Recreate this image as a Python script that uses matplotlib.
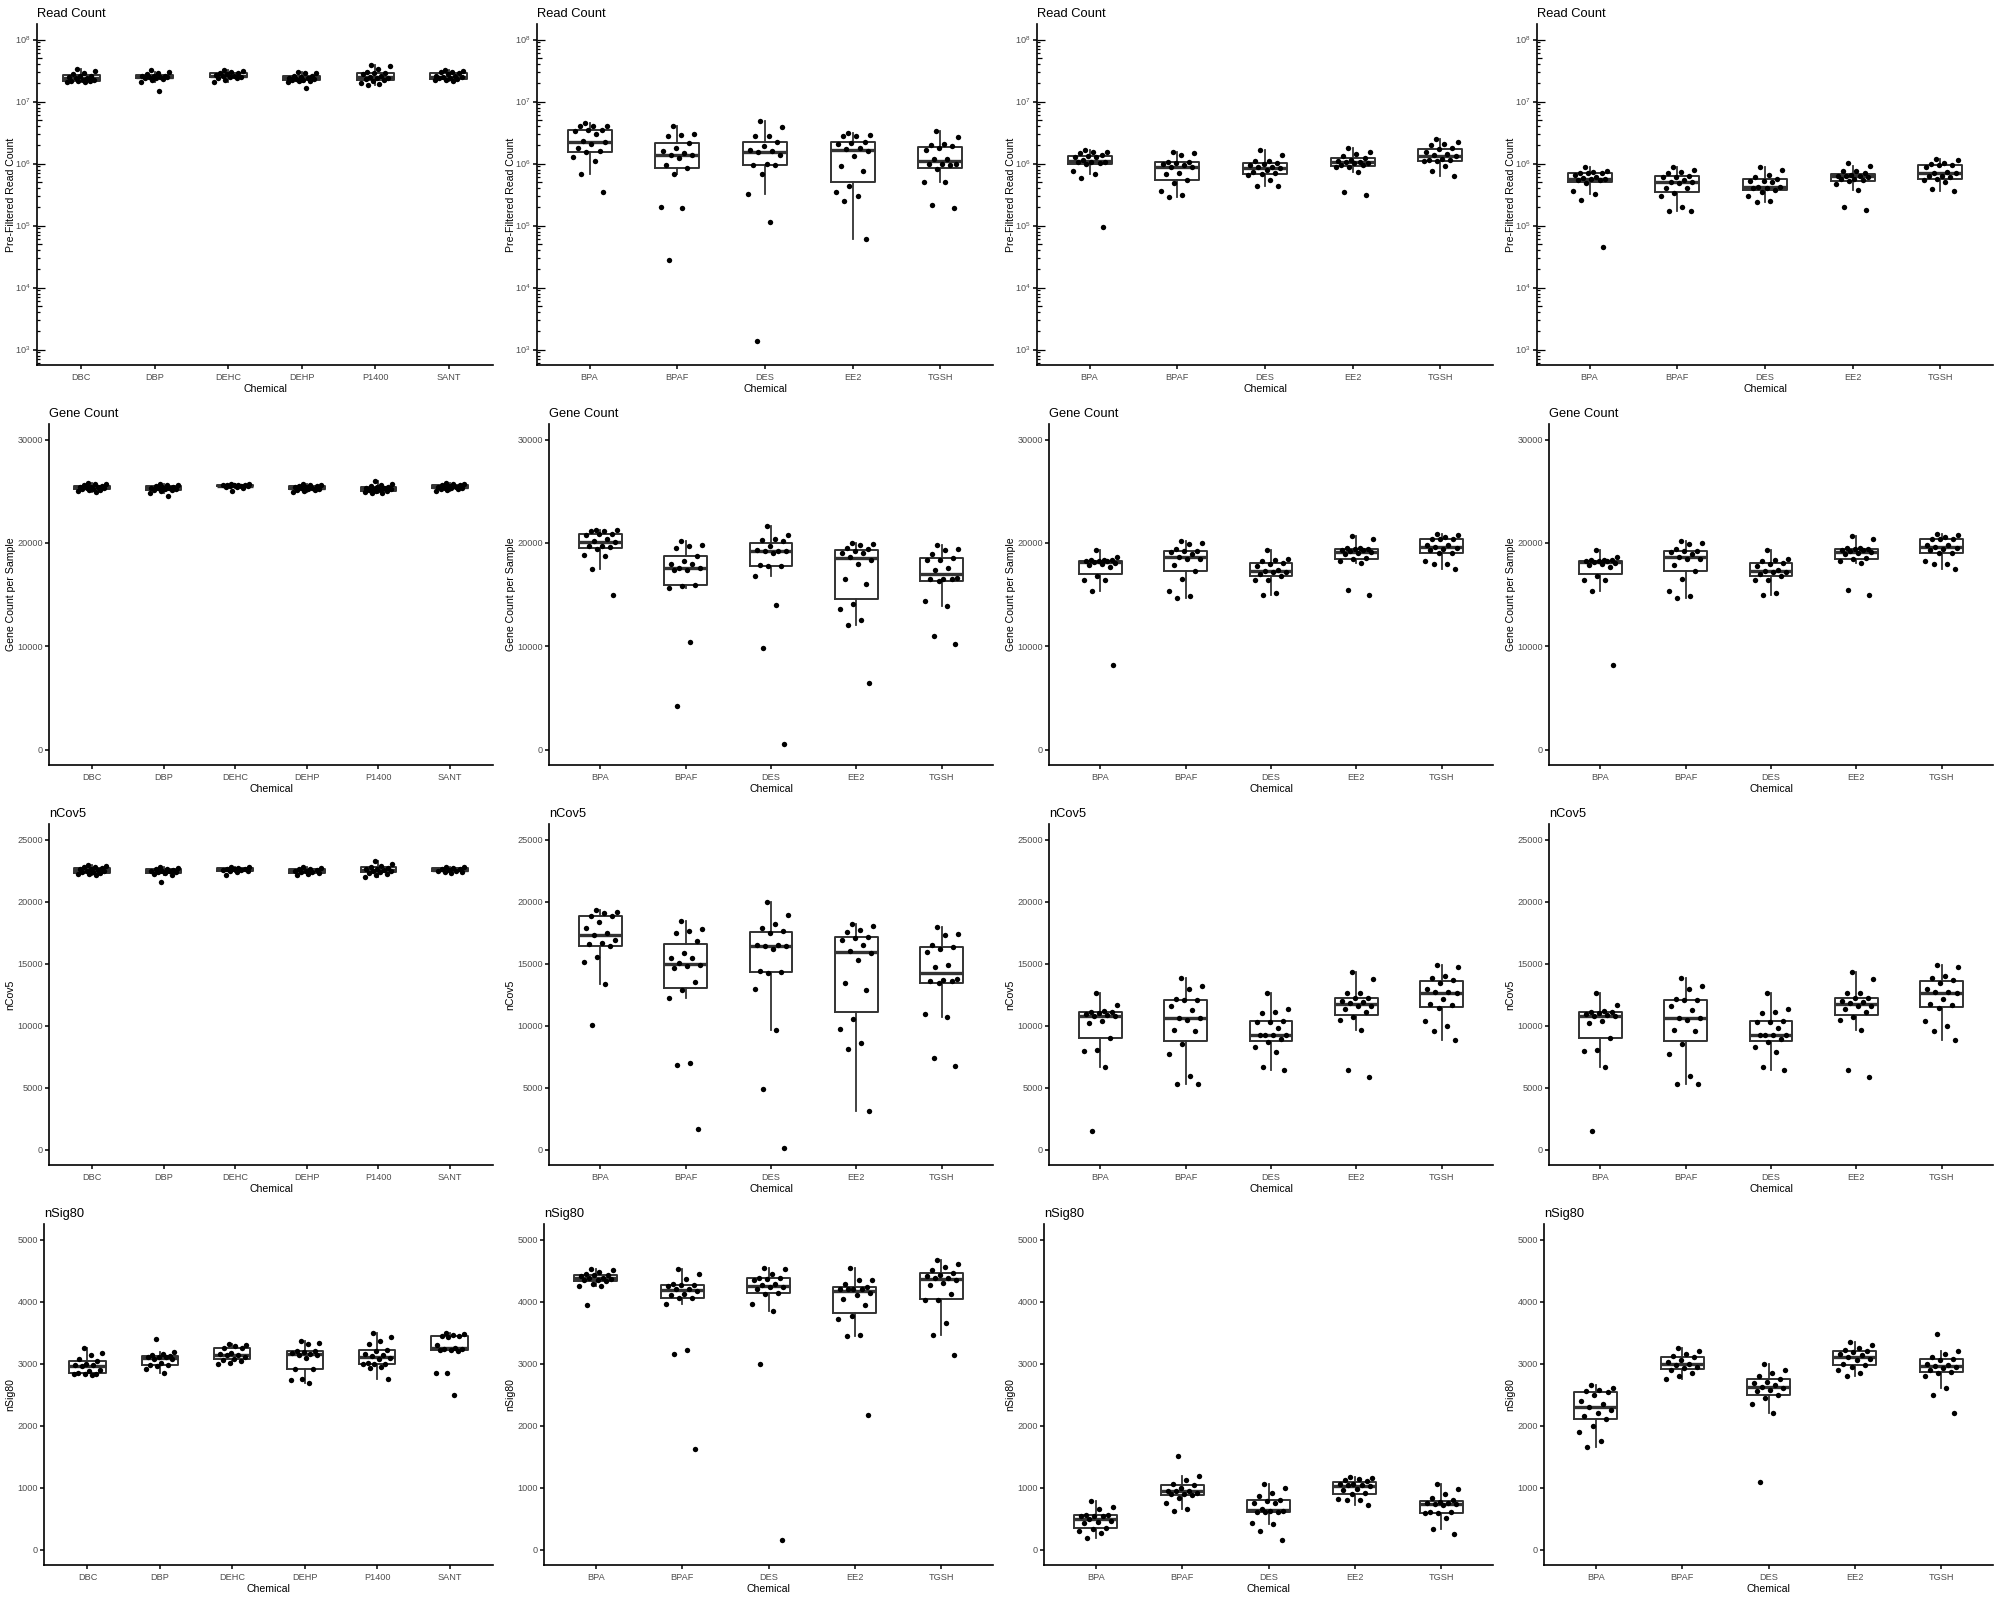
import numpy as np
import matplotlib
matplotlib.use("Agg")
import matplotlib.pyplot as plt
from matplotlib import cbook
from matplotlib.transforms import blended_transform_factory

plt.rcParams['font.family'] = ['Liberation Sans', 'DejaVu Sans']
plt.rcParams['mathtext.fontset'] = 'custom'
plt.rcParams['mathtext.rm'] = 'Liberation Sans'
plt.rcParams['mathtext.it'] = 'Liberation Sans:italic'

# ---------------- categories ----------------
chem_A = ["DBC", "DBP", "DEHC", "DEHP", "P1400", "SANT"]
chem_B = ["BPA", "BPAF", "DES", "EE2", "TGSH"]

# ---------------- Read Count (millions) ----------------
reads_c1 = [
    [33.6, 30.5, 28.3, 27.3, 26.2, 25.6, 24.7, 24.1, 23.8, 22.6, 22.1, 21.8, 21.6, 21.3, 21.0, 21.0],
    [32.0, 30.1, 29.0, 27.3, 26.2, 26.2, 25.6, 25.0, 24.7, 24.4, 24.1, 23.8, 23.2, 22.1, 20.5, 14.5],
    [32.0, 30.5, 29.6, 29.0, 28.6, 27.6, 26.9, 26.2, 25.9, 25.3, 24.7, 24.1, 23.5, 22.6, 20.5],
    [29.7, 29.0, 28.3, 26.2, 25.6, 25.0, 24.1, 23.8, 23.2, 22.9, 22.6, 22.1, 21.6, 21.3, 20.5, 16.6],
    [38.5, 37.1, 34.0, 29.7, 29.0, 28.3, 27.3, 25.6, 25.0, 24.1, 23.5, 23.2, 22.6, 21.8, 20.0, 19.0, 18.8],
    [32.0, 31.6, 30.1, 29.4, 28.3, 27.6, 26.2, 25.6, 25.0, 24.7, 24.1, 23.5, 23.2, 22.6, 22.1, 21.6],
]
reads_c2 = [
    [4.42, 4.10, 4.10, 3.98, 3.53, 3.45, 3.31, 2.94, 2.29, 2.21, 2.10, 1.75, 1.62, 1.54, 1.25, 1.08, 0.665, 0.353],
    [4.0, 2.94, 2.90, 2.76, 2.15, 1.77, 1.58, 1.45, 1.36, 1.35, 1.23, 0.94, 0.85, 0.665, 0.20, 0.195, 0.0276],
    [4.82, 3.85, 2.76, 2.76, 2.24, 1.91, 1.68, 1.62, 1.54, 1.36, 0.975, 0.94, 0.94, 0.665, 0.328, 0.113, 0.00136],
    [3.05, 2.83, 2.76, 2.76, 2.21, 2.15, 2.10, 1.79, 1.73, 1.62, 1.31, 0.905, 0.77, 0.44, 0.353, 0.297, 0.253, 0.0617],
    [3.33, 2.66, 2.07, 2.02, 1.90, 1.75, 1.68, 1.20, 1.20, 1.0, 0.975, 0.975, 0.94, 0.83, 0.50, 0.50, 0.213, 0.195],
]
reads_c3 = [
    [1.64, 1.52, 1.52, 1.45, 1.35, 1.31, 1.28, 1.25, 1.13, 1.05, 1.05, 1.05, 1.03, 0.99, 0.743, 0.673, 0.58, 0.093],
    [1.56, 1.45, 1.36, 1.06, 1.06, 1.03, 0.964, 0.94, 0.873, 0.873, 0.706, 0.665, 0.532, 0.482, 0.358, 0.305, 0.287],
    [1.68, 1.36, 1.09, 1.08, 1.03, 1.0, 0.94, 0.873, 0.862, 0.851, 0.80, 0.734, 0.69, 0.665, 0.649, 0.532, 0.441, 0.43],
    [1.75, 1.52, 1.43, 1.31, 1.23, 1.16, 1.09, 1.06, 1.06, 1.03, 1.03, 0.94, 0.94, 0.883, 0.883, 0.734, 0.345, 0.316],
    [2.50, 2.21, 2.10, 1.98, 1.75, 1.73, 1.52, 1.43, 1.36, 1.31, 1.19, 1.16, 1.12, 1.09, 1.09, 0.905, 0.751, 0.625],
]
reads_c4 = [
    [0.873, 0.751, 0.724, 0.69, 0.69, 0.69, 0.649, 0.602, 0.587, 0.552, 0.552, 0.538, 0.532, 0.488, 0.358, 0.328, 0.262, 0.0448],
    [0.873, 0.80, 0.734, 0.69, 0.625, 0.61, 0.61, 0.532, 0.50, 0.50, 0.488, 0.405, 0.405, 0.336, 0.297, 0.198, 0.17, 0.17],
    [0.873, 0.80, 0.649, 0.602, 0.572, 0.519, 0.519, 0.50, 0.421, 0.421, 0.396, 0.396, 0.372, 0.345, 0.297, 0.247, 0.238],
    [1.03, 0.905, 0.751, 0.751, 0.69, 0.649, 0.625, 0.625, 0.625, 0.61, 0.572, 0.552, 0.532, 0.519, 0.47, 0.367, 0.198, 0.181],
    [1.19, 1.13, 1.03, 0.99, 0.94, 0.94, 0.873, 0.724, 0.69, 0.69, 0.64, 0.625, 0.61, 0.552, 0.532, 0.506, 0.381, 0.358],
]

# ---------------- Gene Count ----------------
gene_c1 = [
    [25750, 25700, 25650, 25600, 25500, 25450, 25400, 25380, 25350, 25300, 25250, 25200, 25150, 25100, 25000, 24950],
    [25650, 25600, 25550, 25500, 25450, 25400, 25350, 25300, 25280, 25250, 25200, 25150, 25100, 25000, 24800, 24500],
    [25700, 25650, 25620, 25600, 25580, 25560, 25550, 25520, 25500, 25480, 25450, 25400, 25350, 25000],
    [25650, 25600, 25550, 25500, 25480, 25450, 25400, 25350, 25300, 25250, 25200, 25150, 25100, 25050, 24950],
    [25950, 25700, 25600, 25500, 25450, 25400, 25350, 25300, 25250, 25200, 25150, 25100, 25050, 25000, 24950, 24850, 24800],
    [25800, 25700, 25650, 25600, 25550, 25500, 25450, 25400, 25350, 25300, 25280, 25250, 25200, 25150, 25000],
]
gene_c2 = [
    [21290, 21195, 21130, 21098, 20840, 20808, 20775, 20388, 20130, 20066, 19679, 19646, 19582, 19421, 18775, 18679, 17485, 14969],
    [20130, 19743, 19646, 19517, 18711, 18195, 17904, 17904, 17582, 17549, 17324, 17324, 15936, 15775, 15646, 10420, 4162],
    [21582, 20775, 20324, 20227, 20130, 19646, 19259, 19162, 19162, 19162, 19033, 17808, 17711, 17711, 16743, 14001, 9775, 484],
    [20001, 19840, 19743, 19517, 19356, 19162, 19033, 19001, 18614, 18356, 17904, 16517, 16033, 14098, 13614, 12485, 12001, 6452],
    [19743, 19356, 19259, 18872, 18550, 18356, 18291, 17582, 17324, 16582, 16517, 16517, 16517, 16259, 14356, 13840, 10936, 10162],
]
gene_c3 = [
    [19259, 18614, 18356, 18291, 18291, 18195, 18195, 18195, 18130, 18066, 17969, 17808, 17646, 16743, 16356, 16356, 15291, 8130],
    [20163, 20001, 19904, 19356, 19195, 19195, 19098, 18937, 18582, 18453, 18453, 17808, 17227, 16517, 15291, 14807, 14678],
    [19259, 18453, 18291, 18195, 18033, 17904, 17711, 17324, 17259, 17162, 17162, 17001, 16743, 16420, 16356, 15162, 14904],
    [20614, 20388, 19517, 19485, 19421, 19356, 19259, 19259, 19162, 19098, 19033, 18937, 18550, 18453, 18227, 18033, 15388, 14969],
    [20872, 20775, 20550, 20388, 20324, 20324, 19808, 19743, 19582, 19517, 19421, 19259, 19033, 19033, 18195, 17904, 17904, 17485],
]
gene_c4 = gene_c3

# ---------------- nCov5 ----------------
ncov_c1 = [
    [22950, 22850, 22800, 22750, 22700, 22650, 22600, 22550, 22500, 22450, 22400, 22350, 22300, 22250, 22200, 22150],
    [22800, 22700, 22650, 22600, 22550, 22500, 22480, 22450, 22400, 22350, 22300, 22250, 22150, 21600],
    [22800, 22750, 22700, 22650, 22620, 22600, 22580, 22550, 22500, 22450, 22400, 22100],
    [22750, 22700, 22650, 22600, 22550, 22500, 22450, 22400, 22350, 22300, 22250, 22150],
    [23300, 23000, 22900, 22800, 22700, 22650, 22600, 22550, 22500, 22450, 22400, 22300, 22200, 22100, 22000],
    [22800, 22750, 22700, 22650, 22600, 22550, 22500, 22450, 22400, 22350, 22300],
]
ncov_c2 = [
    [19354, 19192, 19085, 18870, 18816, 18332, 17902, 17472, 17311, 16934, 16666, 16585, 16451, 15537, 15160, 13359, 10053],
    [18440, 17821, 17606, 17445, 16854, 15859, 15483, 15483, 15026, 14918, 14838, 14676, 13548, 12902, 12230, 6962, 6828, 1667],
    [19999, 18950, 18198, 17875, 17606, 17472, 16531, 16531, 16451, 16451, 16209, 14435, 14327, 14273, 12956, 9650, 4892, 134],
    [18198, 18063, 17741, 17580, 17123, 17069, 16934, 16531, 16020, 15859, 15322, 13467, 12902, 10537, 9731, 8602, 8118, 3145],
    [17983, 17391, 17311, 16504, 16370, 16182, 15913, 14918, 14757, 13763, 13682, 13628, 13601, 13413, 10940, 10725, 7392, 6774],
]
ncov_c3 = [
    [12634, 11666, 11209, 11128, 11075, 11021, 10940, 10860, 10806, 10806, 10403, 10214, 9032, 8064, 7956, 6693, 1532],
    [13843, 13225, 12956, 12150, 12042, 12042, 11612, 11290, 10644, 10644, 10483, 9650, 9542, 8521, 7715, 5967, 5295, 5295],
    [12634, 11343, 11075, 10994, 10403, 10322, 10322, 9811, 9274, 9274, 9274, 9274, 8924, 8655, 8306, 7903, 6639, 6371],
    [14300, 13763, 12634, 12634, 12230, 12230, 12015, 11935, 11827, 11612, 11558, 11343, 11075, 10725, 10483, 9677, 6371, 5887],
    [14918, 14757, 14031, 13843, 13682, 13413, 12956, 12741, 12687, 12634, 12150, 11747, 11693, 11424, 10403, 9999, 9596, 8870],
]
ncov_c4 = ncov_c3

# ---------------- nSig80 ----------------
nsig_c1 = [
    [3256, 3175, 3143, 3078, 3035, 2987, 2971, 2971, 2960, 2890, 2874, 2852, 2836, 2836, 2826, 2820],
    [3391, 3186, 3159, 3143, 3122, 3105, 3105, 3105, 3078, 3068, 3014, 2971, 2971, 2955, 2917, 2852],
    [3310, 3294, 3283, 3256, 3251, 3175, 3159, 3143, 3143, 3105, 3078, 3062, 3041, 3014, 2987],
    [3364, 3337, 3310, 3202, 3197, 3186, 3170, 3159, 3132, 3132, 3089, 2917, 2906, 2756, 2729, 2686],
    [3493, 3428, 3358, 3310, 3213, 3202, 3159, 3143, 3116, 3089, 3078, 3009, 2987, 2987, 2987, 2944, 2928, 2756],
    [3498, 3482, 3455, 3444, 3439, 3428, 3294, 3251, 3240, 3229, 3213, 3213, 3202, 2847, 2847, 2497],
]
nsig_c2 = [
    [4521, 4505, 4478, 4440, 4435, 4424, 4408, 4386, 4386, 4370, 4354, 4354, 4333, 4279, 4252, 4246, 3950],
    [4532, 4451, 4359, 4289, 4273, 4263, 4252, 4209, 4198, 4166, 4128, 4101, 4063, 4063, 3967, 3213, 3148, 1625],
    [4548, 4532, 4440, 4386, 4381, 4370, 4343, 4279, 4263, 4236, 4236, 4198, 4139, 4128, 3967, 3843, 2987, 161],
    [4542, 4343, 4343, 4289, 4236, 4209, 4209, 4209, 4198, 4144, 4112, 4037, 3950, 3767, 3714, 3466, 3439, 2174],
    [4666, 4612, 4559, 4505, 4462, 4435, 4413, 4386, 4386, 4343, 4306, 4263, 4128, 4020, 4020, 3660, 3455, 3143],
]
nsig_c3 = [
    [775, 684, 657, 549, 549, 538, 538, 533, 484, 452, 441, 425, 350, 334, 296, 264, 188],
    [1502, 1179, 1114, 1060, 1033, 996, 942, 942, 936, 915, 899, 888, 872, 834, 753, 646, 619],
    [1049, 990, 915, 856, 802, 775, 753, 748, 657, 619, 614, 603, 603, 603, 431, 414, 291, 161],
    [1168, 1152, 1141, 1114, 1098, 1060, 1060, 1044, 1033, 1023, 969, 953, 910, 888, 818, 802, 791, 710],
    [1049, 969, 888, 829, 791, 764, 753, 753, 737, 737, 721, 603, 603, 592, 592, 511, 334, 253],
]
nsig_c4 = [
    [2650, 2600, 2580, 2560, 2540, 2500, 2400, 2350, 2300, 2250, 2200, 2150, 2100, 2000, 1900, 1750, 1650],
    [3250, 3200, 3150, 3120, 3100, 3050, 3020, 3000, 2980, 2950, 2920, 2900, 2850, 2800, 2750],
    [3000, 2900, 2850, 2800, 2750, 2700, 2680, 2650, 2620, 2600, 2580, 2550, 2500, 2450, 2350, 2200, 1090],
    [3350, 3300, 3250, 3220, 3200, 3180, 3150, 3130, 3100, 3080, 3050, 3000, 2980, 2950, 2900, 2850, 2800],
    [3480, 3200, 3150, 3100, 3080, 3050, 3000, 2980, 2960, 2950, 2930, 2900, 2870, 2850, 2800, 2600, 2500, 2200],
]

# ---------------- layout / style ----------------
W, H = 2000, 1600
fig = plt.figure(figsize=(20, 16), dpi=100)

rows = [
    dict(title="Read Count", ylabel="Pre-Filtered Read Count", log=True, left=37,
         data=[reads_c1, reads_c2, reads_c3, reads_c4]),
    dict(title="Gene Count", ylabel="Gene Count per Sample", log=False, left=49,
         data=[gene_c1, gene_c2, gene_c3, gene_c4], lim=(0, 30000), step=10000),
    dict(title="nCov5", ylabel="nCov5", log=False, left=49,
         data=[ncov_c1, ncov_c2, ncov_c3, ncov_c4], lim=(0, 25000), step=5000),
    dict(title="nSig80", ylabel="nSig80", log=False, left=44,
         data=[nsig_c1, nsig_c2, nsig_c3, nsig_c4], lim=(0, 5000), step=1000),
]

BOXC = "#333333"
TICKC = "#4D4D4D"


def jitter(n, width=0.2):
    return np.array([width * (2 * ((i * 0.6180339887 + 0.37) % 1.0) - 1) for i in range(n)])


for r, spec in enumerate(rows):
    for c in range(4):
        cats = chem_A if c == 0 else chem_B
        groups = spec["data"][c]
        L = spec["left"]
        x0 = c * 500 + L
        x1 = c * 500 + 493
        y_top = r * 400 + 24
        y_bot = r * 400 + 365
        ax = fig.add_axes([x0 / W, 1 - y_bot / H, (x1 - x0) / W, (y_bot - y_top) / H])
        n = len(cats)
        pos = np.arange(1, n + 1)

        if spec["log"]:
            vals = [np.array(g) * 1e6 for g in groups]
            stats = cbook.boxplot_stats([np.log10(v) for v in vals], whis=1.5)
            for s in stats:
                for k in ("med", "q1", "q3", "whislo", "whishi", "mean"):
                    s[k] = 10 ** s[k]
                s["fliers"] = np.array([])
            ax.set_yscale("log")
        else:
            vals = [np.array(g, dtype=float) for g in groups]
            stats = cbook.boxplot_stats(vals, whis=1.5)

        ax.bxp(stats, positions=pos, widths=0.5, showfliers=False, showcaps=False,
               boxprops=dict(color=BOXC, linewidth=1.4),
               whiskerprops=dict(color=BOXC, linewidth=1.3),
               medianprops=dict(color=BOXC, linewidth=2.4),
               manage_ticks=False, zorder=2)

        for i, v in enumerate(vals):
            ax.scatter(pos[i] + jitter(len(v)), v, s=15, c="black", linewidths=0, zorder=3)

        ax.set_xlim(0.4, n + 0.6)
        ax.set_xticks(pos)
        ax.set_xticklabels(cats)

        if spec["log"]:
            lo, hi = 10 ** 2.75, 10 ** 8.25
            ax.set_ylim(lo, hi)
            ax.set_yticks([10.0 ** k for k in range(3, 9)])
            ax.set_yticklabels([r"$\mathregular{10^{%d}}$" % k for k in range(3, 9)])
            ax.yaxis.set_minor_locator(matplotlib.ticker.NullLocator())
            trans = blended_transform_factory(ax.transAxes, ax.transData)
            aw = float(x1 - x0)
            for k in range(2, 9):
                for m in range(1, 10):
                    v = m * 10.0 ** k
                    if lo <= v <= hi:
                        ln = 7.7 if m == 1 else (5.3 if m == 5 else 2.7)
                        ax.plot([0, ln / aw], [v, v], transform=trans, color="black",
                                lw=0.9, clip_on=False, solid_capstyle="butt", zorder=4)
        else:
            a, b = spec["lim"]
            pad = 0.05 * (b - a)
            ax.set_ylim(a - pad, b + pad)
            ax.set_yticks(np.arange(a, b + 1, spec["step"]))
            ax.set_yticklabels([str(int(t)) for t in np.arange(a, b + 1, spec["step"])])

        for side in ("top", "right"):
            ax.spines[side].set_visible(False)
        for side in ("left", "bottom"):
            ax.spines[side].set_linewidth(1.2)
            ax.spines[side].set_color("black")
        ax.tick_params(axis="both", which="major", length=3, width=1.1, color="black",
                       labelcolor=TICKC, labelsize=6.6)
        ax.tick_params(axis="x", pad=3)
        ax.tick_params(axis="y", pad=1.5)

        ax.set_title(spec["title"], loc="left", fontsize=9.3, pad=5, color="black")
        ax.set_xlabel("Chemical", fontsize=7.6, color="black")
        ax.set_ylabel(spec["ylabel"], fontsize=7.6, color="black")
        ax.xaxis.set_label_coords(0.5, (365 - 384) / (y_bot - y_top))
        ax.yaxis.set_label_coords((15.7 - L) / (x1 - x0), 0.5)

fig.savefig("out.png", dpi=100, facecolor="white")
